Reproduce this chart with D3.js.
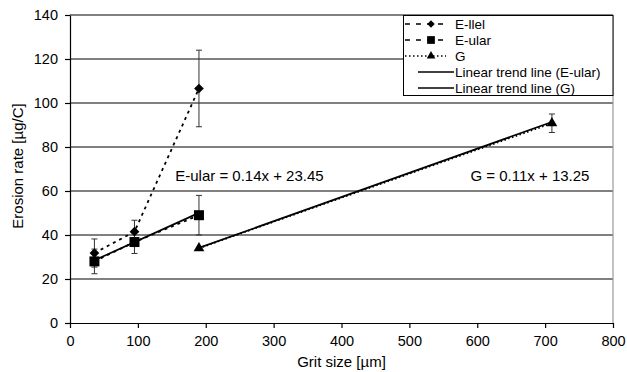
<!DOCTYPE html>
<html>
<head>
<meta charset="utf-8">
<script src="https://cdn.jsdelivr.net/npm/d3@7"></script>
<style>
  body { margin: 0; background: #fff; }
  svg text { font-family: "Liberation Sans", Arial, sans-serif; fill: #000; }
</style>
</head>
<body>
<div class="svg-container"></div>
<script>
// data
const llelX = [36, 95, 190];
const llelY = [31.8, 41.5, 106.6];
const llelErr = [6.4, 5.2, 17.4];

const ularX = [36, 95, 190];
const ularY = [28, 36.8, 49];
const ularErr = [5.6, 5.2, 9];

const gX = [190, 710];
const gY = [34, 90.8];
const gErr = [0, 4.2];

// trend lines: slope, intercept
const trendUlar = [0.14, 23.45];
const trendG = [0.11, 13.25];

const xTicks = [0, 100, 200, 300, 400, 500, 600, 700, 800];
const yTicks = [0, 20, 40, 60, 80, 100, 120, 140];

const legendNames = ["E-llel", "E-ular", "G", "Linear trend line (E-ular)", "Linear trend line (G)"];

const w = 627;
const h = 372;
const padLeft = 70, padRight = 613, padTop = 15, padBottom = 323;

const svg = d3.select(".svg-container")
  .append("svg")
  .attr("width", w)
  .attr("height", h);

// SCALES
const xScale = d3.scaleLinear().domain([0, 800]).range([padLeft, padRight]);
const yScale = d3.scaleLinear().domain([0, 140]).range([padBottom, padTop]);

// gridlines
svg.append("g")
  .selectAll("line")
  .data(yTicks.filter(d => d > 0))
  .enter()
  .append("line")
  .attr("x1", padLeft)
  .attr("x2", padRight)
  .attr("y1", d => yScale(d))
  .attr("y2", d => yScale(d))
  .attr("stroke", "#000")
  .attr("stroke-width", 1);

// right border
svg.append("line")
  .attr("x1", padRight).attr("x2", padRight)
  .attr("y1", padTop).attr("y2", padBottom)
  .attr("stroke", "#999").attr("stroke-width", 1.2);

// AXIS
const xAxis = d3.axisBottom(xScale).tickValues(xTicks).tickSize(5).tickSizeOuter(0);
const yAxis = d3.axisLeft(yScale).tickValues(yTicks).tickSize(5).tickSizeOuter(0);

const gx = svg.append("g")
  .attr("transform", "translate(0," + padBottom + ")")
  .call(xAxis);
gx.selectAll("text").attr("dy", "1.05em").style("font-size", "14.5px");

const gy = svg.append("g")
  .attr("transform", "translate(" + padLeft + ",0)")
  .call(yAxis);
gy.selectAll("text").attr("dx", "-4").style("font-size", "14.5px");

svg.selectAll(".domain, .tick line").attr("stroke", "#000").attr("stroke-width", 1.2);

svg.append("text")
  .attr("x", xScale(400))
  .attr("y", 367)
  .attr("text-anchor", "middle")
  .style("font-size", "15px")
  .text("Grit size [µm]");

svg.append("text")
  .attr("transform", "rotate(-90)")
  .attr("x", -166)
  .attr("y", 23)
  .attr("text-anchor", "middle")
  .style("font-size", "15px")
  .text("Erosion rate [µg/C]");

// error bars
function errBars(xs, ys, es) {
  const g = svg.append("g");
  xs.forEach((x, i) => {
    if (!es[i]) return;
    const cx = xScale(x);
    const y1 = yScale(ys[i] + es[i]);
    const y2 = yScale(ys[i] - es[i]);
    g.append("line").attr("x1", cx).attr("x2", cx).attr("y1", y1).attr("y2", y2)
      .attr("stroke", "#333").attr("stroke-width", 1);
    [y1, y2].forEach(yy => {
      g.append("line").attr("x1", cx - 3).attr("x2", cx + 3).attr("y1", yy).attr("y2", yy)
        .attr("stroke", "#333").attr("stroke-width", 1);
    });
  });
}
errBars(llelX, llelY, llelErr);
errBars(ularX, ularY, ularErr);
errBars(gX, gY, gErr);

// series lines
const line = d3.line().x(d => xScale(d[0])).y(d => yScale(d[1]));
function seriesLine(xs, ys, dash) {
  svg.append("path")
    .datum(xs.map((x, i) => [x, ys[i]]))
    .attr("d", line)
    .attr("fill", "none")
    .attr("stroke", "#000")
    .attr("stroke-width", 1.8)
    .attr("stroke-dasharray", dash);
}
seriesLine(llelX, llelY, "3,4");
seriesLine(ularX, ularY, "3,4");
seriesLine(gX, gY, "1.5,2.5");

// trend lines
function trend(coef, x0, x1) {
  svg.append("path")
    .datum([x0, x1].map(x => [x, coef[0] * x + coef[1]]))
    .attr("d", line)
    .attr("fill", "none")
    .attr("stroke", "#000")
    .attr("stroke-width", 1.7);
}
trend(trendUlar, d3.min(ularX), d3.max(ularX));
trend(trendG, d3.min(gX), d3.max(gX));

// markers
const diamond = d3.symbol().type(d3.symbolDiamond2).size(60);
const square = d3.symbol().type(d3.symbolSquare).size(100);
const triangle = d3.symbol().type(d3.symbolTriangle).size(50);
function markers(xs, ys, sym) {
  svg.append("g").selectAll("path")
    .data(xs.map((x, i) => [x, ys[i]]))
    .enter()
    .append("path")
    .attr("d", sym)
    .attr("transform", d => "translate(" + xScale(d[0]) + "," + yScale(d[1]) + ")")
    .attr("fill", "#000");
}
markers(llelX, llelY, diamond);
markers(ularX, ularY, square);
markers(gX, gY, triangle);

// equations
svg.append("text")
  .attr("x", xScale(155))
  .attr("y", 181)
  .style("font-size", "15px")
  .text("E-ular = 0.14x + 23.45");
svg.append("text")
  .attr("x", xScale(590))
  .attr("y", 181)
  .style("font-size", "15px")
  .text("G = 0.11x + 13.25");

// legend
const lg = svg.append("g");
lg.append("rect")
  .attr("x", 403.5).attr("y", 15.5)
  .attr("width", padRight - 403.5).attr("height", 80)
  .attr("fill", "#fff").attr("stroke", "#000").attr("stroke-width", 1);

const legendSyms = [d3.symbolDiamond2, d3.symbolSquare, d3.symbolTriangle, null, null];
const legendSizes = [36, 60, 32, 0, 0];
const legendDash = ["5,6", "5,6", "1.5,2.5", null, null];
legendNames.forEach((name, i) => {
  const yy = 24 + i * 16;
  const isTrend = !legendSyms[i];
  lg.append("line")
    .attr("x1", isTrend ? 418 : 405).attr("x2", isTrend ? 454 : 446)
    .attr("y1", yy).attr("y2", yy)
    .attr("stroke", "#000")
    .attr("stroke-width", 1.6)
    .attr("stroke-dasharray", legendDash[i]);
  if (!isTrend) {
    lg.append("path")
      .attr("d", d3.symbol().type(legendSyms[i]).size(legendSizes[i]))
      .attr("transform", "translate(431," + yy + ")")
      .attr("fill", "#000");
  }
  lg.append("text")
    .attr("x", 455)
    .attr("y", yy + 5)
    .style("font-size", "13.5px")
    .text(name);
});
</script>
</body>
</html>
